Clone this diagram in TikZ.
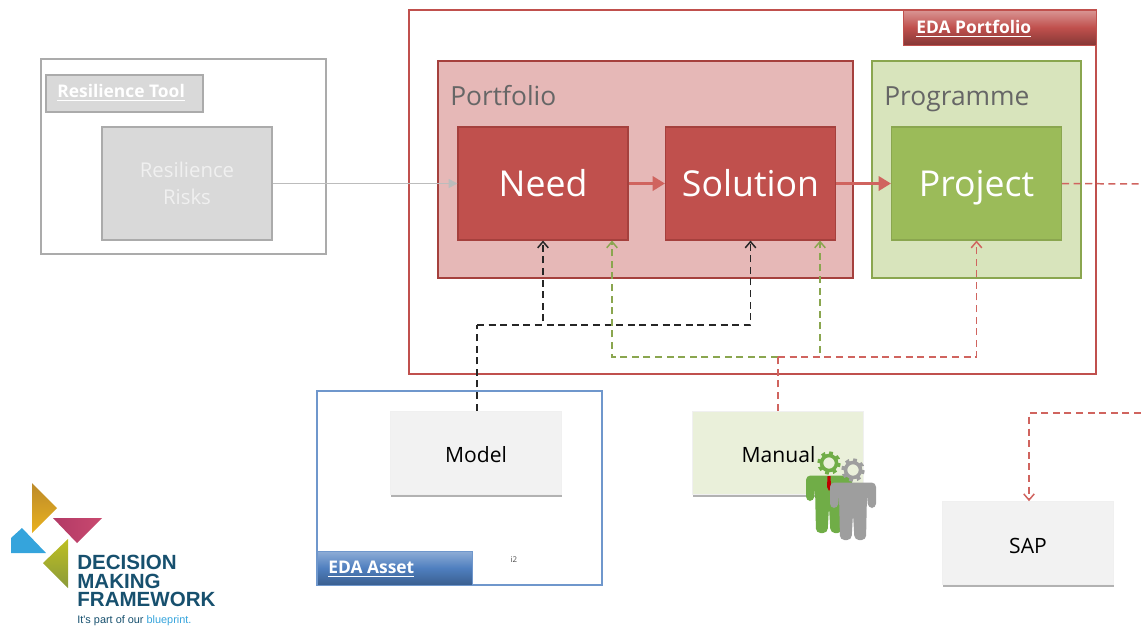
\documentclass[tikz,border=0pt]{standalone}
\usepackage{fontspec}
\setmainfont{Open Sans}
\newfontfamily\logofont{Liberation Sans}
\usetikzlibrary{arrows.meta,shadows}

\definecolor{edared}{HTML}{C0504D}
\definecolor{edaline}{HTML}{A5403D}
\definecolor{edadash}{HTML}{D0645F}
\definecolor{edapink}{HTML}{E6B8B7}
\definecolor{edagreen}{HTML}{9BBB59}
\definecolor{edaolive}{HTML}{8AA64F}
\definecolor{edapale}{HTML}{D8E4BC}
\definecolor{edagrey}{HTML}{D9D9D9}
\definecolor{edaedge}{HTML}{ABABAB}
\definecolor{edablue}{HTML}{6F97CC}
\definecolor{tabtop}{HTML}{8FADD6}
\definecolor{tabmid}{HTML}{4F7FBF}
\definecolor{tabend}{HTML}{3A5F90}
\definecolor{mangreen}{HTML}{70AD47}
\definecolor{logoteal}{HTML}{17506E}
\definecolor{logogold}{HTML}{BC8A2A}
\definecolor{logoamber}{HTML}{E9B21F}
\definecolor{logorose}{HTML}{B23A66}
\definecolor{logopink}{HTML}{C9496F}
\definecolor{logosky}{HTML}{35A4DC}
\definecolor{logolime}{HTML}{BDBF22}
\definecolor{logomoss}{HTML}{8B9A3A}

\tikzset{
  bigbox/.style={draw,line width=0.6pt,minimum width=3.4cm,minimum height=2.26cm,
    text=white,font=\fontsize{20.3}{20.3}\selectfont,inner sep=0pt,text height=14.5pt,text depth=0pt},
  toolbox/.style={draw=black!6,fill=#1,minimum width=3.42cm,minimum height=1.66cm,
    drop shadow={shadow xshift=0.2pt,shadow yshift=-1.6pt,opacity=0.3,fill=black},
    text=black,font=\fontsize{12}{12}\selectfont,inner sep=0pt,text height=11.4pt,text depth=0pt},
  tablabel/.style={font=\fontsize{9.9}{9.9}\selectfont\bfseries,text=white,anchor=west,inner sep=0pt},
  headlabel/.style={font=\fontsize{15}{15}\selectfont,text=black!60,anchor=west,inner sep=0pt,
    text height=10.7pt,text depth=0pt},
  dashlink/.style={dash pattern=on 4pt off 2.6pt,line width=0.85pt,-{Straight Barb[length=3.5pt,width=6pt]}},
  dashplain/.style={dash pattern=on 4pt off 2.6pt,line width=0.85pt},
  flowlink/.style={line width=2.2pt,edadash,-{Triangle[length=7pt,width=8pt]}}
}

\newcommand{\drawperson}[3]{%
  \begin{scope}[shift={(#1)}]
    \fill[#2,rounded corners=2.5pt] (-23,12.5) -- (23,12.5) -- (23,38) -- (15,38) -- (14,24)
      -- (13,70) -- (1.5,70) -- (0,44) -- (-1.5,70) -- (-13,70) -- (-14,24) -- (-15,38) -- (-23,38) -- cycle;
    \draw[#2,line width=2pt] (0,0) circle (7.5);
    \draw[#2,line width=2pt,dash pattern=on 2.2pt off 2.25pt] (0,0) circle (10);
    #3
  \end{scope}}

\begin{document}
\begin{tikzpicture}[x=0.02cm,y=-0.02cm]
  \useasboundingbox (0,0) rectangle (1141,630);

  % resilience tool
  \draw[edaedge,line width=0.6pt] (41,59) rectangle (326,254);
  \draw[edaedge,fill=edagrey,line width=0.6pt] (46,75) rectangle (203,112);
  \node[tablabel] (tooltab) at (57,93) {\underline{Resilience Tool}};
  \node[bigbox,draw=edaedge,fill=edagrey,text=black!6,align=center,text height=,text depth=,
    font=\fontsize{11.6}{15.5}\selectfont] (risks) at (187,183.5) {Resilience\\Risks};

  % portfolio frame
  \draw[edared,line width=0.8pt] (409,10) rectangle (1096,374);
  \draw[edared,top color=edared!60,bottom color=edared!70!black,middle color=edared,line width=0.4pt]
    (903,10) rectangle (1096,45);
  \node[tablabel] (portfoliotab) at (916,29) {\underline{EDA Portfolio}};

  \draw[edaline,fill=edapink,line width=0.8pt] (438,61) rectangle (853,278);
  \node[headlabel] (portfoliolabel) at (450,96) {Portfolio};
  \draw[edaolive,fill=edapale,line width=0.8pt] (872,61) rectangle (1081,278);
  \node[headlabel] (programmelabel) at (884,96) {Programme};

  \node[bigbox,draw=edaline,fill=edared] (need) at (543,183.5) {Need};
  \node[bigbox,draw=edaline,fill=edared] (solution) at (750.5,183.5) {Solution};
  \node[bigbox,draw=edaolive,fill=edagreen] (project) at (976.5,183.5) {Project};

  % asset frame
  \draw[edablue,line width=0.8pt] (317,391) rectangle (602,585);
  \draw[edablue,top color=tabtop,bottom color=tabend,middle color=tabmid,line width=0.4pt]
    (317,551) rectangle (472,585);
  \node[tablabel] (assettab) at (328,569) {\underline{EDA Asset}};
  \node[font=\fontsize{4.5}{4.5}\selectfont,text=black!70,inner sep=0pt] (itwo) at (514,560) {i2};

  \node[toolbox=black!5] (model) at (476,452.5) {Model};
  \node[toolbox=edapale!55] (manual) at (778,452.5) {\hspace*{0.02cm}Manual};
  \node[toolbox=black!5] (sap) at (1028,543) {SAP};

  \coordinate (modelturn) at (477,325);
  \coordinate (manualturn) at (778,357);
  \coordinate (greenleft) at (612,357);
  \coordinate (greenright) at (820,357);
  \coordinate (projectout) at (1141,184);
  \coordinate (sapin) at (1141,413);
  \coordinate (sapturn) at (1029,413);

  % links
  \draw[edaedge!80,line width=1pt,-{Triangle[length=5pt,width=5pt]}] (risks) -- (need);
  \draw[flowlink] (need) -- (solution);
  \draw[flowlink] (solution) -- (project);

  \draw[dashplain,black!85] (model.north -| modelturn) -- (modelturn);
  \draw[dashlink,black!85] (modelturn) -| (need.south);
  \draw[dashlink,black!85] (modelturn) -| (solution.south);

  \draw[dashlink,edaolive] (manualturn) -| (need.south -| greenleft);
  \draw[dashlink,edaolive] (manualturn) -| (solution.south -| greenright);

  \draw[dashplain,edadash] (manual.north) -- (manualturn);
  \draw[dashlink,edadash] (manualturn) -| (project.south);
  \draw[dashplain,edadash] (project.east) -- (projectout);
  \draw[dashlink,edadash] (sapin) -- (sapturn) -- (sap.north -| sapturn);

  % people
  \drawperson{829,463}{mangreen}{\fill[red!75!black] (-1.5,13) -- (1.5,13) -- (2,24) -- (0,28) -- (-2,24) -- cycle;}
  \drawperson{853,470}{black!38}{}

  % logo
  \shade[top color=logogold,bottom color=logoamber] (32,483) -- (57,508) -- (32,533) -- cycle;
  \shade[left color=logorose,right color=logopink] (53,518) -- (102,518) -- (77,543) -- cycle;
  \fill[logosky] (11,553) -- (46,553) -- (22,528) -- (11,538) -- cycle;
  \shade[top color=logolime,bottom color=logomoss] (68,539) -- (43,563) -- (68,588) -- cycle;
  \node[font=\logofont\fontsize{11.7}{10.4}\selectfont\bfseries,text=logoteal,align=left,anchor=west,inner sep=0pt]
    (logotext) at (77,581) {DECISION\\MAKING\\FRAMEWORK};
  \node[font=\logofont\fontsize{6.2}{6.2}\selectfont,text=logoteal,anchor=west,inner sep=0pt] (logotag)
    at (77,621) {It's part of our \textcolor{logosky}{blueprint.}};
\end{tikzpicture}
\end{document}
